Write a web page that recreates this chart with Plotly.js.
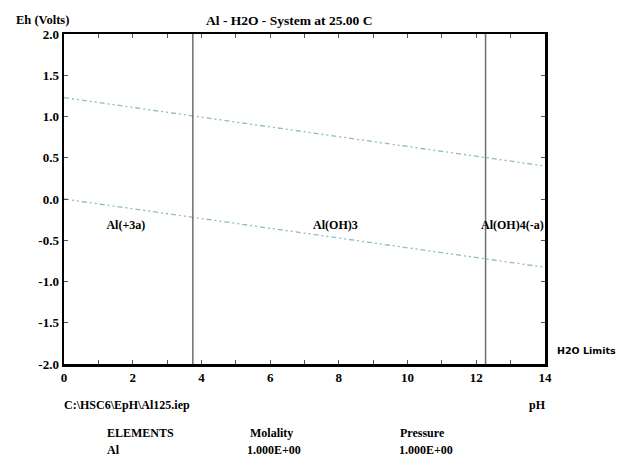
<!DOCTYPE html>
<html><head><meta charset="utf-8">
<script src="https://cdn.plot.ly/plotly-3.0.1.min.js"></script>
<style>body{margin:0;background:#fff}#c{width:618px;height:459px}</style>
</head><body><div id="c"></div>
<script>
// Data
const phRange = [0, 14];
const waterUpperEh = [1.229, 0.400];   // O2/H2O limit at pH 0 and 14
const waterLowerEh = [0.000, -0.828];  // H2/H2O limit at pH 0 and 14
const boundaryPH = [3.75, 12.27];      // Al(+3a)/Al(OH)3 and Al(OH)3/Al(OH)4(-a)
const ehRange = [-2, 2];
const regionNames = ["Al(+3a)", "Al(OH)3", "Al(OH)4(-a)"];
const regionPH = [1.8, 7.9, 13.05];
const regionEh = [-0.33, -0.33, -0.33];
const xTickVals = [0, 2, 4, 6, 8, 10, 12, 14];
const xTickText = ["0", "2", "4", "6", "8", "10", "12", "14"];
const yTickVals = [2.0, 1.5, 1.0, 0.5, 0.0, -0.5, -1.0, -1.5, -2.0];
const yTickText = ["2.0", "1.5", "1.0", "0.5", "0.0", "-0.5", "-1.0", "-1.5", "-2.0"];

const serif = "Liberation Serif, Times New Roman, serif";
const bold = (size) => ({family: serif, size, color: "#000", weight: "bold"});
const traces = [];
traces.push({x: phRange, y: waterUpperEh, mode: "lines", line: {color: "#8fbcbc", width: 1.3, dash: "5px,3px,2px,3px,2px,3px"}, hoverinfo: "skip"});
traces.push({x: phRange, y: waterLowerEh, mode: "lines", line: {color: "#8fbcbc", width: 1.3, dash: "5px,3px,2px,3px,2px,3px"}, hoverinfo: "skip"});
boundaryPH.forEach(p => traces.push({x: [p, p], y: ehRange, mode: "lines", line: {color: "#6e6e6e", width: 1.5}, hoverinfo: "skip"}));
traces.push({x: regionPH, y: regionEh, mode: "text", text: regionNames, textposition: "middle center",
  textfont: bold(12), hoverinfo: "skip"});

const ann = (x, y, text, opts) => Object.assign({xref: "paper", yref: "paper", x, y, text, showarrow: false,
  font: bold(12), xanchor: "left", yanchor: "middle"}, opts || {});

const axisCommon = {showgrid: false, zeroline: false, showline: true, linecolor: "#000", linewidth: 2.5,
  mirror: "allticks", ticks: "inside", ticklen: 4, tickcolor: "#555", tickwidth: 1, tickmode: "array", tickfont: bold(13)};

const layout = {
  width: 618, height: 459, showlegend: false,
  paper_bgcolor: "#fff", plot_bgcolor: "#fff",
  margin: {l: 64, r: 73, t: 34, b: 95},
  xaxis: Object.assign({range: phRange, tickvals: xTickVals, ticktext: xTickText,
    minor: {dtick: 1, tick0: 0, ticks: "inside", ticklen: 4, tickcolor: "#555", showgrid: false}}, axisCommon),
  yaxis: Object.assign({range: ehRange, tickvals: yTickVals, ticktext: yTickText}, axisCommon),
  annotations: [
    ann(0.468, 1, "Al - H2O - System at 25.00 C", {xanchor: "center", yshift: 14, font: bold(13.5)}),
    ann(0, 1, "Eh (Volts)", {xshift: -50, yshift: 14, font: bold(12.5)}),
    ann(1, 0, "H2O Limits", {xshift: 10, yshift: 14, font: {family: "DejaVu Sans, sans-serif", size: 9.5, color: "#000", weight: "bold"}}),
    ann(0, 0, "C:\\HSC6\\EpH\\Al125.iep", {xshift: -2, yshift: -41}),
    ann(1, 0, "pH", {xanchor: "right", xshift: 3, yshift: -41}),
    ann(0.085, 0, "ELEMENTS", {yshift: -69}),
    ann(0.085, 0, "Al", {yshift: -86}),
    ann(0.383, 0, "Molality", {yshift: -69}),
    ann(0.376, 0, "1.000E+00", {yshift: -86}),
    ann(0.694, 0, "Pressure", {yshift: -69}),
    ann(0.692, 0, "1.000E+00", {yshift: -86})
  ]
};
Plotly.newPlot("c", traces, layout, {staticPlot: true, displayModeBar: false});
</script></body></html>
